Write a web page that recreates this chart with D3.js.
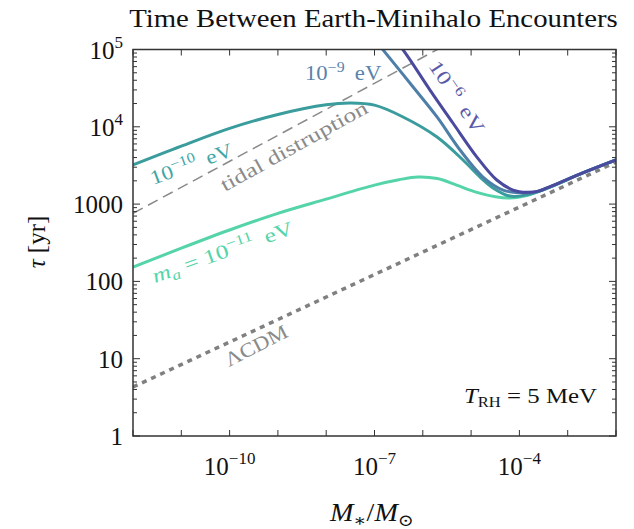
<!DOCTYPE html>
<html>
<head>
<meta charset="utf-8">
<script src="https://cdn.jsdelivr.net/npm/d3@7"></script>
<style>
  body { margin: 0; background: #fff; }
  svg { font-family: "Liberation Serif", "DejaVu Serif", serif; }
</style>
</head>
<body>
<script>
// Data (mass in solar masses, tau in years)
var massAxion11 = [1e-12, 1e-11, 1e-10, 1e-9, 1e-8, 1e-7, 3.2e-7, 7.9e-7, 2e-6, 5e-6, 1.26e-5, 3.2e-5, 6.3e-5, 1.26e-4, 3.7e-4, 2e-3, 1e-2];
var tauAxion11  = [153, 269, 462, 759, 1160, 1760, 2065, 2240, 2140, 1760, 1430, 1245, 1200, 1270, 1600, 2510, 3720];

var massAxion10 = [1e-12, 1e-11, 1e-10, 1e-9, 1e-8, 3.2e-8, 1e-7, 3.9e-7, 1.97e-6, 6.8e-6, 1.53e-5, 2.84e-5, 6.3e-5, 1.44e-4, 3.7e-4, 2e-3, 1e-2];
var tauAxion10  = [3210, 5620, 9550, 14450, 19280, 20320, 19050, 13400, 7380, 3720, 2240, 1620, 1270, 1320, 1600, 2510, 3720];

var massAxion9 = [6.35e-8, 1.5e-7, 6.3e-7, 1.97e-6, 5.9e-6, 1.76e-5, 4.6e-5, 1.03e-4, 2e-4, 3.7e-4, 2e-3, 1e-2];
var tauAxion9  = [1.9e5, 9.9e4, 3.27e4, 1.34e4, 5010, 2240, 1520, 1400, 1420, 1610, 2510, 3720];

var massAxion6 = [1.65e-7, 3.9e-7, 1.41e-6, 4.2e-6, 1.32e-5, 3.4e-5, 7.4e-5, 1.44e-4, 2.5e-4, 3.7e-4, 2e-3, 1e-2];
var tauAxion6  = [1.9e5, 9.9e4, 2.99e4, 1.12e4, 4060, 2050, 1520, 1420, 1470, 1620, 2510, 3720];

var massLCDM = [1e-12, 1e-2];
var tauLCDM  = [4.3, 3500];

var massTidal = [1e-12, 2e-6];
var tauTidal  = [760, 1e5];

var xTickExps = [-12, -11, -10, -9, -8, -7, -6, -5, -4, -3, -2];
var xLabelExps = [-10, -7, -4];
var yTickExps = [0, 1, 2, 3, 4, 5];
var yTickLabels = ["1", "10", "100", "1000", "10|4", "10|5"];

// SVG size and margins
var svgWidth = 634;
var svgHeight = 529;
var margin = { top: 49.5, right: 18, bottom: 93, left: 133 };
var width = svgWidth - margin.left - margin.right;
var height = svgHeight - margin.top - margin.bottom;

var svg = d3.select("body")
    .append("svg")
    .attr("width", svgWidth)
    .attr("height", svgHeight);

var chartGroup = svg.append("g")
    .attr("transform", `translate(${margin.left}, ${margin.top})`);

// Log scales
var xScale = d3.scaleLog().domain([1e-12, 1e-2]).range([0, width]);
var yScale = d3.scaleLog().domain([1, 1e5]).range([height, 0]);

// Clip to the plot area
svg.append("defs").append("clipPath")
    .attr("id", "plotClip")
    .append("rect")
    .attr("width", width)
    .attr("height", height);

var plot = chartGroup.append("g").attr("clip-path", "url(#plotClip)");

var line = d3.line()
    .x(d => xScale(d[0]))
    .y(d => yScale(d[1]))
    .curve(d3.curveCatmullRom.alpha(0.5));

function pairs(xs, ys) {
    return xs.map((x, i) => [x, ys[i]]);
}

// Reference lines
plot.append("path")
    .datum(pairs(massTidal, tauTidal))
    .attr("d", line)
    .attr("fill", "none")
    .attr("stroke", "#8a8a8a")
    .attr("stroke-width", 1.5)
    .attr("stroke-dasharray", "11,6");

plot.append("path")
    .datum(pairs(massLCDM, tauLCDM))
    .attr("d", line)
    .attr("fill", "none")
    .attr("stroke", "#808080")
    .attr("stroke-width", 3.5)
    .attr("stroke-dasharray", "5,5");

// Axion mass curves
var curves = [
    { m: massAxion11, t: tauAxion11, color: "#55d4aa" },
    { m: massAxion10, t: tauAxion10, color: "#3a9c9c" },
    { m: massAxion9, t: tauAxion9, color: "#4e7fa8" },
    { m: massAxion6, t: tauAxion6, color: "#4a4a9e" }
];

curves.forEach(function(c) {
    plot.append("path")
        .datum(pairs(c.m, c.t))
        .attr("d", line)
        .attr("fill", "none")
        .attr("stroke", c.color)
        .attr("stroke-width", 3);
});

// Ticks (inward, all four sides)
var xTicks = xTickExps.map(e => Math.pow(10, e));
var yMajor = yTickExps.map(e => Math.pow(10, e));
var yMinor = [];
for (var e = 0; e < 5; e++) {
    for (var k = 2; k <= 9; k++) yMinor.push(k * Math.pow(10, e));
}

var tickGroup = chartGroup.append("g").attr("stroke", "#333").attr("stroke-width", 1);

xTicks.forEach(function(v) {
    var px = xScale(v);
    tickGroup.append("line").attr("x1", px).attr("x2", px).attr("y1", height).attr("y2", height - 6);
    tickGroup.append("line").attr("x1", px).attr("x2", px).attr("y1", 0).attr("y2", 6);
});
yMajor.forEach(function(v) {
    var py = yScale(v);
    tickGroup.append("line").attr("x1", 0).attr("x2", 7).attr("y1", py).attr("y2", py);
    tickGroup.append("line").attr("x1", width).attr("x2", width - 7).attr("y1", py).attr("y2", py);
});
yMinor.forEach(function(v) {
    var py = yScale(v);
    tickGroup.append("line").attr("x1", 0).attr("x2", 4).attr("y1", py).attr("y2", py);
    tickGroup.append("line").attr("x1", width).attr("x2", width - 4).attr("y1", py).attr("y2", py);
});

// Frame
chartGroup.append("rect")
    .attr("width", width)
    .attr("height", height)
    .attr("fill", "none")
    .attr("stroke", "#333")
    .attr("stroke-width", 1.5);

// x tick labels
xLabelExps.forEach(function(e) {
    var t = chartGroup.append("text")
        .attr("x", xScale(Math.pow(10, e)))
        .attr("y", height + 39)
        .attr("text-anchor", "middle")
        .attr("font-size", 25)
        .attr("fill", "#111");
    t.append("tspan").text("10");
    t.append("tspan").attr("dy", -11).attr("font-size", 17).text("\u2212" + Math.abs(e));
});

// y tick labels
yTickLabels.forEach(function(lab, i) {
    var t = chartGroup.append("text")
        .attr("x", -10)
        .attr("y", yScale(yMajor[i]) + 9)
        .attr("text-anchor", "end")
        .attr("font-size", 25)
        .attr("fill", "#111");
    var parts = lab.split("|");
    t.append("tspan").text(parts[0]);
    if (parts[1]) {
        t.append("tspan").attr("dy", -11).attr("font-size", 17).text(parts[1]);
    }
});

// Stretch a text horizontally so it spans the wanted length (the original font is wider)
function fitWidth(t, target) {
    var w = t.node().getBBox().width;
    var tr = t.attr("transform") || "";
    t.attr("transform", tr + ` scale(${target / w}, 1)`);
}

// Title
var title = svg.append("text")
    .attr("transform", "translate(373.5, 27)")
    .attr("text-anchor", "middle")
    .attr("font-size", 25)
    .attr("fill", "#111")
    .text("Time Between Earth-Minihalo Encounters");
fitWidth(title, 489);

// Axis labels
var xLab = svg.append("text")
    .attr("transform", "translate(372, 521)")
    .attr("text-anchor", "middle")
    .attr("font-size", 25)
    .attr("fill", "#111");
xLab.append("tspan").attr("font-style", "italic").text("M");
xLab.append("tspan").attr("font-size", 17).attr("dy", 5).text("\u2217");
xLab.append("tspan").attr("dy", -5).text("/");
xLab.append("tspan").attr("font-style", "italic").text("M");
xLab.append("tspan").attr("font-size", 17).attr("dy", 5).text("\u2299");
fitWidth(xLab, 85);

svg.append("text")
    .attr("transform", "translate(45, 242) rotate(-90)")
    .attr("text-anchor", "middle")
    .attr("font-size", 25)
    .attr("fill", "#111")
    .html('<tspan font-style="italic">\u03c4</tspan> [yr]');

// In-plot labels
function addLabel(x, y, angle, color, size, target, build) {
    var t = svg.append("text")
        .attr("transform", `translate(${x}, ${y}) rotate(${angle})`)
        .attr("font-size", size)
        .attr("fill", color);
    build(t);
    fitWidth(t, target);
    return t;
}

function expLabel(t, exp) {
    t.append("tspan").text("10");
    t.append("tspan").attr("dy", -8).attr("font-size", 14).text("\u2212" + exp);
    t.append("tspan").attr("dy", 8).text("\u2009 eV");
}

addLabel(305, 80, 0, "#5a82aa", 20, 77, t => expLabel(t, 9));
addLabel(428, 66, 56, "#5a5aa8", 20, 84, t => expLabel(t, 6));
addLabel(153, 185, -20, "#3fa6a6", 20, 87, t => expLabel(t, 10));
addLabel(155, 283, -19.5, "#55d4aa", 20, 149, function(t) {
    t.append("tspan").attr("font-style", "italic").text("m");
    t.append("tspan").attr("font-style", "italic").attr("font-size", 14).attr("dy", 4).text("a");
    t.append("tspan").attr("dy", -4).text(" = 10");
    t.append("tspan").attr("dy", -8).attr("font-size", 14).text("\u221211");
    t.append("tspan").attr("dy", 8).text("\u2009 eV");
});
addLabel(225, 192, -29, "#8a8a8a", 20, 165, t => t.text("tidal distruption"));
addLabel(229, 367, -27, "#8a8a8a", 20, 68, t => t.text("\u039bCDM"));

var trh = svg.append("text")
    .attr("transform", "translate(464, 403)")
    .attr("font-size", 21)
    .attr("fill", "#111");
trh.append("tspan").attr("font-style", "italic").text("T");
trh.append("tspan").attr("font-size", 14).attr("dy", 4).text("RH");
trh.append("tspan").attr("dy", -4).text(" = 5 MeV");
fitWidth(trh, 133);
</script>
</body>
</html>
